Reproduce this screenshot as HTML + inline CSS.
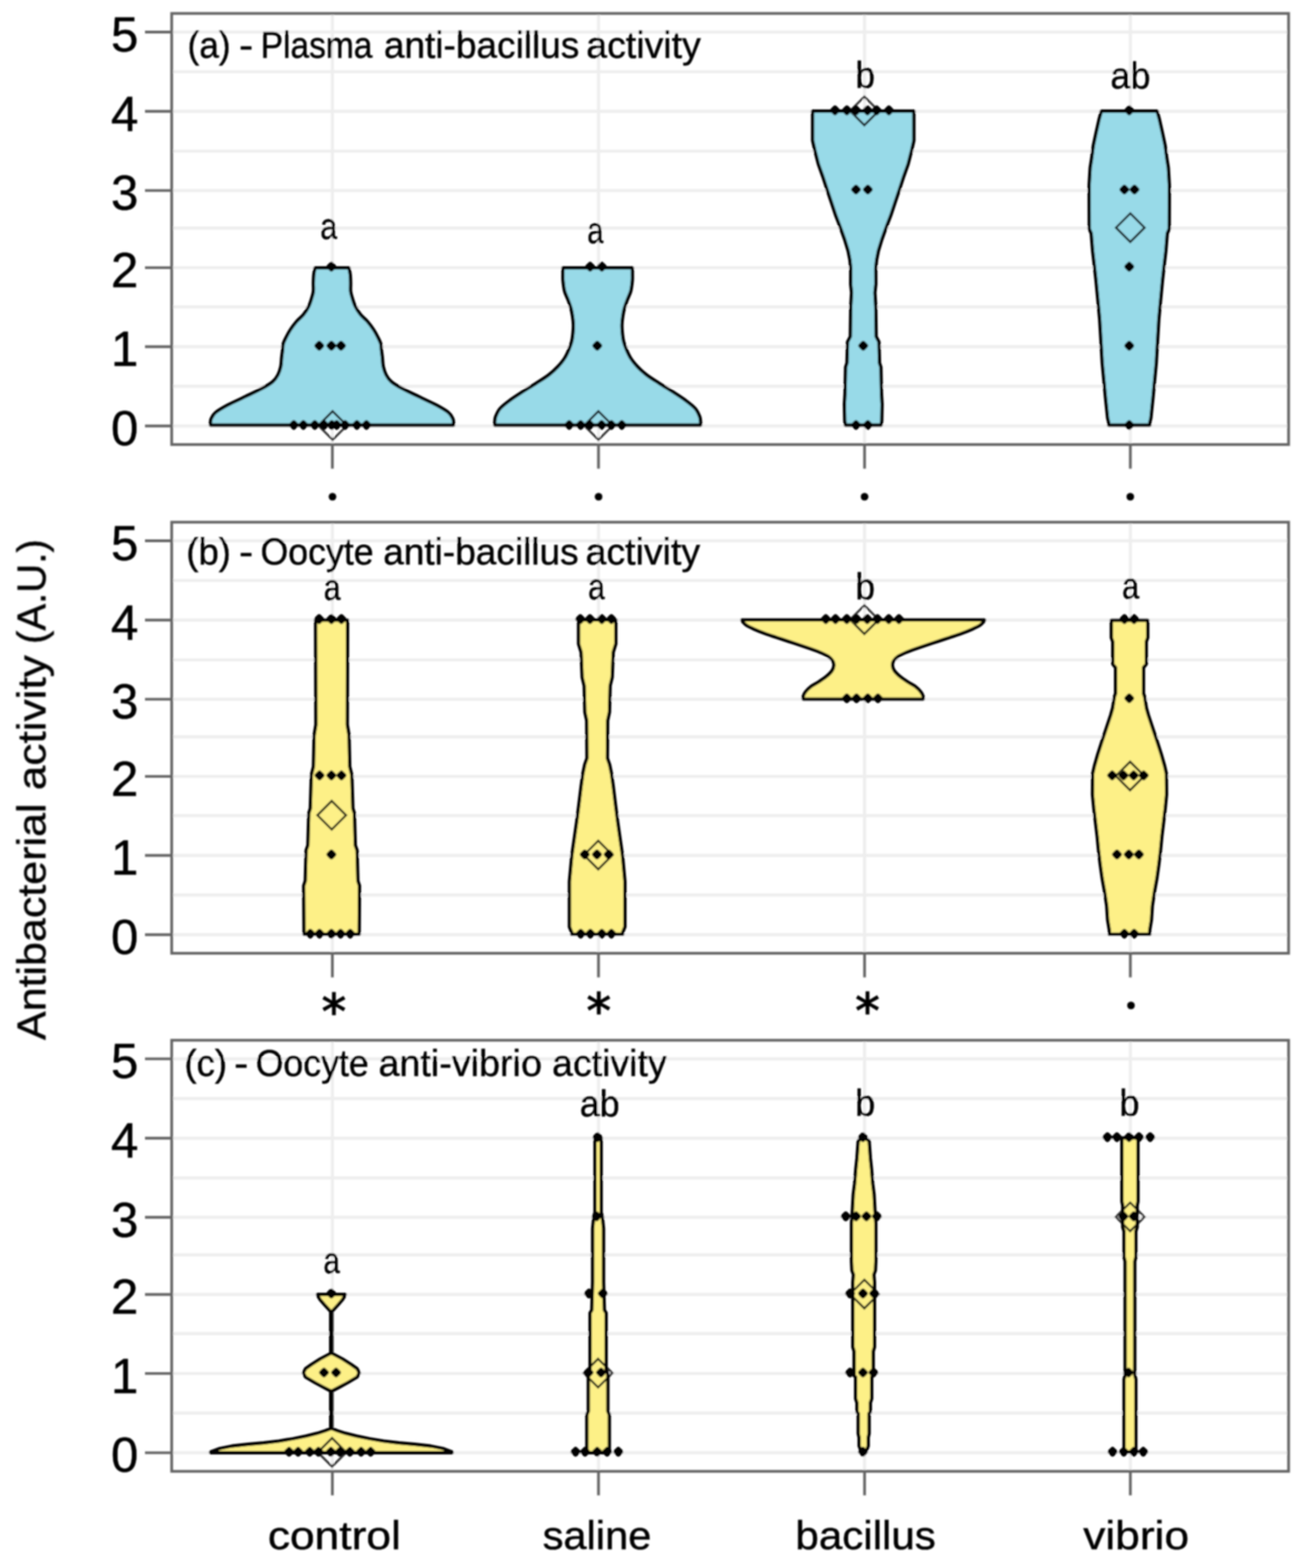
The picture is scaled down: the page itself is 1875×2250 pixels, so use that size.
<!DOCTYPE html>
<html lang="en"><head><meta charset="utf-8"><title>Antibacterial activity violin plots</title>
<style>html,body{margin:0;padding:0;background:#fff}body{width:1875px;height:2250px;overflow:hidden}svg{display:block}text{font-family:'Liberation Sans', Arial, Helvetica, sans-serif;fill:#000;stroke:#000;stroke-width:0.6px}</style>
</head><body>
<svg width="1875" height="2250" viewBox="0 0 1875 2250" role="img" aria-label="Violin plots of antibacterial activity">
<defs><filter id="soft" x="-2%" y="-2%" width="104%" height="104%"><feGaussianBlur stdDeviation="1.1"/></filter></defs>
<rect width="1875" height="2250" fill="#fff"/>
<g filter="url(#soft)">
<g id="panel-a">
<path d="M246.3,611.2 H1848.6 M246.3,497.5 H1848.6 M246.3,384.1 H1848.6 M246.3,273.4 H1848.6 M246.3,159.8 H1848.6 M246.3,46 H1848.6 M246.3,554.3 H1848.6 M246.3,440.4 H1848.6 M246.3,327.3 H1848.6 M246.3,216.9 H1848.6 M246.3,102.9 H1848.6 M476.8,19.3 V637.9 M858.6,19.3 V637.9 M1240.3,19.3 V637.9 M1621.6,19.3 V637.9" stroke="#eeeeee" stroke-width="4.4" fill="none"/>
<path d="M452,384.4 C451.7,386 450.6,390.4 450.2,394 C449.8,397.6 449.7,402 449.6,406 C449.5,410 450,414.4 449.6,418 C449.2,421.6 448.3,424 447.2,427.6 C446.1,431.2 444.9,435.6 442.9,439.6 C440.9,443.6 438.2,448 435.3,451.6 C432.4,455.2 428.6,457.6 425.5,461.2 C422.4,464.8 419,469.4 416.5,473.2 C414,477 412.2,480.6 410.5,484 C408.8,487.4 407.1,490.6 406.3,493.6 C405.5,496.6 405.9,498.6 405.5,502 C405.1,505.4 404.4,510 404,514 C403.6,518 403.7,522 402.8,526 C401.9,530 400.6,534.4 398.7,538 C396.8,541.6 395,544.4 391.3,547.6 C387.6,550.8 382.9,553.6 376.3,557.2 C369.7,560.8 360.1,565.2 351.8,569.2 C343.6,573.2 333.9,577.4 326.8,581.2 C319.7,585 313.1,588.8 309.2,592 C305.3,595.2 304.4,598.1 303.2,600.4 C302,602.7 302.2,604.4 302,606 C301.8,607.6 302,609.3 302,610 L650.6,610 C650.6,609.3 650.8,607.6 650.6,606 C650.4,604.4 650.6,602.7 649.4,600.4 C648.2,598.1 647.3,595.2 643.4,592 C639.5,588.8 632.9,585 625.8,581.2 C618.7,577.4 609,573.2 600.8,569.2 C592.5,565.2 582.9,560.8 576.3,557.2 C569.7,553.6 565,550.8 561.3,547.6 C557.6,544.4 555.8,541.6 553.9,538 C552,534.4 550.7,530 549.8,526 C548.9,522 549,518 548.6,514 C548.2,510 547.5,505.4 547.1,502 C546.7,498.6 547.1,496.6 546.3,493.6 C545.5,490.6 543.8,487.4 542.1,484 C540.4,480.6 538.6,477 536.1,473.2 C533.6,469.4 530.2,464.8 527.1,461.2 C524,457.6 520.2,455.2 517.3,451.6 C514.4,448 511.7,443.6 509.7,439.6 C507.7,435.6 506.5,431.2 505.4,427.6 C504.3,424 503.4,421.6 503,418 C502.6,414.4 503.1,410 503,406 C502.9,402 502.8,397.6 502.4,394 C502,390.4 500.9,386 500.6,384.4Z" fill="#98dae8" stroke="#000" stroke-width="4.8" stroke-linejoin="round"/>
<path d="M807.6,384.4 C807.6,386 807.6,390.8 807.6,394 C807.6,397.2 807.4,399.6 807.8,403.6 C808.2,407.6 808.8,413.6 810,418 C811.2,422.4 813.3,426 814.8,430 C816.3,434 817.9,438 819,442 C820.1,446 820.8,450 821.4,454 C822,458 822.5,462 822.6,466 C822.7,470 822.4,474 822,478 C821.6,482 821.2,486 820.2,490 C819.2,494 817.7,498 816,502 C814.3,506 812.6,510 810,514 C807.4,518 804.2,522 800.4,526 C796.6,530 792.4,534 787.2,538 C782,542 775.4,546 769.2,550 C763,554 756.2,558 750,562 C743.8,566 737.4,570 732,574 C726.6,578 721.1,582 717.6,586 C714.1,590 712.3,594.7 711,598 C709.7,601.3 710,604 709.8,606 C709.6,608 709.8,609.3 709.8,610 L1005,610 C1005,609.3 1005.2,608 1005,606 C1004.8,604 1005.1,601.3 1003.8,598 C1002.5,594.7 1000.7,590 997.2,586 C993.7,582 988.2,578 982.8,574 C977.4,570 971,566 964.8,562 C958.6,558 951.8,554 945.6,550 C939.4,546 932.8,542 927.6,538 C922.4,534 918.2,530 914.4,526 C910.6,522 907.4,518 904.8,514 C902.2,510 900.5,506 898.8,502 C897.1,498 895.6,494 894.6,490 C893.6,486 893.2,482 892.8,478 C892.4,474 892.1,470 892.2,466 C892.3,462 892.8,458 893.4,454 C894,450 894.7,446 895.8,442 C896.9,438 898.5,434 900,430 C901.5,426 903.6,422.4 904.8,418 C906,413.6 906.6,407.6 907,403.6 C907.4,399.6 907.2,397.2 907.2,394 C907.2,390.8 907.2,386 907.2,384.4Z" fill="#98dae8" stroke="#000" stroke-width="4.8" stroke-linejoin="round"/>
<path d="M1165.8,159.5 L1165.8,201.6 L1168.9,215.4 L1174,235.5 L1180.3,253.1 L1186.5,272 L1192.8,290.8 L1199.1,309.7 L1205.4,326 L1211.7,343.6 L1216.7,360 L1219.2,372.6 L1220.5,385.1 L1220.4,407.7 L1221.7,420 L1220.5,440 L1219.9,483 L1215.9,490.7 L1215.1,520.8 L1213.1,527 L1212.3,565 L1211.4,580 L1211.9,604 L1212.9,610 L1263.9,610 L1264.9,604 L1265.4,580 L1264.5,565 L1263.7,527 L1261.7,520.8 L1260.9,490.7 L1256.9,483 L1256.3,440 L1255.1,420 L1256.4,407.7 L1256.3,385.1 L1257.6,372.6 L1260.1,360 L1265.1,343.6 L1271.4,326 L1277.7,309.7 L1284,290.8 L1290.3,272 L1296.5,253.1 L1302.8,235.5 L1307.9,215.4 L1311,201.6 L1311,159.5Z" fill="#98dae8" stroke="#000" stroke-width="4.8" stroke-linejoin="round"/>
<path d="M1580,159.5 L1576.7,171.4 L1572.5,190.3 L1568.5,209 L1566,228 L1564,240.6 L1562.5,265.7 L1562.7,328.6 L1565.5,335 L1567.5,360 L1570.4,385 L1572.2,401 L1577.6,458 L1581.3,521 L1586,571 L1589,600 L1590.5,606 L1590.5,610 L1649.5,610 L1649.5,606 L1651,600 L1654,571 L1658.7,521 L1662.4,458 L1667.8,401 L1669.6,385 L1672.5,360 L1674.5,335 L1677.3,328.6 L1677.5,265.7 L1676,240.6 L1674,228 L1671.5,209 L1667.5,190.3 L1663.3,171.4 L1660,159.5Z" fill="#98dae8" stroke="#000" stroke-width="4.8" stroke-linejoin="round"/>
<path d="M477.2,590.1 L497.7,610.6 L477.2,631.1 L456.7,610.6Z M858.5,590.1 L879,610.6 L858.5,631.1 L838,610.6Z M1240,138.7 L1260.5,159.2 L1240,179.7 L1219.5,159.2Z M1621.5,306.2 L1642,326.7 L1621.5,347.2 L1601,326.7Z" fill="none" stroke="#000" stroke-opacity="0.8" stroke-width="3.2" stroke-linejoin="miter"/>
<path d="M421.5,606.6 l3.2,3.2 l-3.2,3.2 l-3.2,-3.2Z M435.2,606.6 l3.2,3.2 l-3.2,3.2 l-3.2,-3.2Z M451.6,606.6 l3.2,3.2 l-3.2,3.2 l-3.2,-3.2Z M464.9,606.6 l3.2,3.2 l-3.2,3.2 l-3.2,-3.2Z M476,606.6 l3.2,3.2 l-3.2,3.2 l-3.2,-3.2Z M483,606.6 l3.2,3.2 l-3.2,3.2 l-3.2,-3.2Z M495.1,606.6 l3.2,3.2 l-3.2,3.2 l-3.2,-3.2Z M512,606.6 l3.2,3.2 l-3.2,3.2 l-3.2,-3.2Z M525.7,606.6 l3.2,3.2 l-3.2,3.2 l-3.2,-3.2Z M816.6,606.6 l3.2,3.2 l-3.2,3.2 l-3.2,-3.2Z M833,606.6 l3.2,3.2 l-3.2,3.2 l-3.2,-3.2Z M846,606.6 l3.2,3.2 l-3.2,3.2 l-3.2,-3.2Z M863,606.6 l3.2,3.2 l-3.2,3.2 l-3.2,-3.2Z M877,606.6 l3.2,3.2 l-3.2,3.2 l-3.2,-3.2Z M892,606.6 l3.2,3.2 l-3.2,3.2 l-3.2,-3.2Z M1228,606.6 l3.2,3.2 l-3.2,3.2 l-3.2,-3.2Z M1245,606.6 l3.2,3.2 l-3.2,3.2 l-3.2,-3.2Z M1620,606.6 l3.2,3.2 l-3.2,3.2 l-3.2,-3.2Z M458,492.9 l3.2,3.2 l-3.2,3.2 l-3.2,-3.2Z M475.4,492.9 l3.2,3.2 l-3.2,3.2 l-3.2,-3.2Z M489.2,492.9 l3.2,3.2 l-3.2,3.2 l-3.2,-3.2Z M856.8,492.9 l3.2,3.2 l-3.2,3.2 l-3.2,-3.2Z M1238.4,492.9 l3.2,3.2 l-3.2,3.2 l-3.2,-3.2Z M1620,492.9 l3.2,3.2 l-3.2,3.2 l-3.2,-3.2Z M475.4,379.5 l3.2,3.2 l-3.2,3.2 l-3.2,-3.2Z M846.6,379.5 l3.2,3.2 l-3.2,3.2 l-3.2,-3.2Z M863.4,379.5 l3.2,3.2 l-3.2,3.2 l-3.2,-3.2Z M1620,379.5 l3.2,3.2 l-3.2,3.2 l-3.2,-3.2Z M1228,268.8 l3.2,3.2 l-3.2,3.2 l-3.2,-3.2Z M1245,268.8 l3.2,3.2 l-3.2,3.2 l-3.2,-3.2Z M1613,268.8 l3.2,3.2 l-3.2,3.2 l-3.2,-3.2Z M1627.5,268.8 l3.2,3.2 l-3.2,3.2 l-3.2,-3.2Z M1197.9,155.2 l3.2,3.2 l-3.2,3.2 l-3.2,-3.2Z M1214.9,155.2 l3.2,3.2 l-3.2,3.2 l-3.2,-3.2Z M1228,155.2 l3.2,3.2 l-3.2,3.2 l-3.2,-3.2Z M1244.4,155.2 l3.2,3.2 l-3.2,3.2 l-3.2,-3.2Z M1257.6,155.2 l3.2,3.2 l-3.2,3.2 l-3.2,-3.2Z M1275.2,155.2 l3.2,3.2 l-3.2,3.2 l-3.2,-3.2Z M1620,155.2 l3.2,3.2 l-3.2,3.2 l-3.2,-3.2Z" fill="#000" stroke="#000" stroke-width="7.4" stroke-linejoin="round"/>
<rect x="246.3" y="19.3" width="1602.3" height="618.6" fill="none" stroke="#646464" stroke-width="3.9"/>
<path d="M208,611.2 H246.3 M208,497.5 H246.3 M208,384.1 H246.3 M208,273.4 H246.3 M208,159.8 H246.3 M208,46 H246.3 M476.8,637.9 V672.4 M858.6,637.9 V672.4 M1240.3,637.9 V672.4 M1621.6,637.9 V672.4" stroke="#646464" stroke-width="3.9" fill="none"/>
<text x="198.5" y="639" font-size="70.5" text-anchor="end">0</text>
<text x="198.5" y="525.3" font-size="70.5" text-anchor="end">1</text>
<text x="198.5" y="411.9" font-size="70.5" text-anchor="end">2</text>
<text x="198.5" y="301.2" font-size="70.5" text-anchor="end">3</text>
<text x="198.5" y="187.6" font-size="70.5" text-anchor="end">4</text>
<text x="198.5" y="73.8" font-size="70.5" text-anchor="end">5</text>
</g>
<g id="panel-b">
<path d="M246.3,1341.2 H1848.6 M246.3,1227.5 H1848.6 M246.3,1114.1 H1848.6 M246.3,1003.4 H1848.6 M246.3,889.8 H1848.6 M246.3,776 H1848.6 M246.3,1284.3 H1848.6 M246.3,1170.4 H1848.6 M246.3,1057.3 H1848.6 M246.3,946.9 H1848.6 M246.3,832.9 H1848.6 M476.8,749.3 V1367.9 M858.6,749.3 V1367.9 M1240.3,749.3 V1367.9 M1621.6,749.3 V1367.9" stroke="#eeeeee" stroke-width="4.4" fill="none"/>
<path d="M452.8,889.8 L453.2,1040 L450.7,1055 L449.7,1100 L446.7,1112 L445.2,1160 L443,1167 L441.7,1213 L439.2,1220 L438,1264 L435.7,1271 L436.2,1340.5 L515.2,1340.5 L515.7,1271 L513.4,1264 L512.2,1220 L509.7,1213 L508.4,1167 L506.2,1160 L504.7,1112 L501.7,1100 L500.7,1055 L498.2,1040 L498.6,889.8Z" fill="#fdf087" stroke="#000" stroke-width="4.8" stroke-linejoin="round"/>
<path d="M830,889.6 L830,924 L833.7,936 L835.2,972 L838.1,984 L839.1,1022 L841.7,1034 L842.1,1088 L838.9,1097 L836.2,1110 L833.7,1128 L830.4,1155 L827.2,1180 L823.9,1203 L820.3,1228 L816.9,1265 L816.9,1330 L820.2,1338 L820.2,1340.7 L893.2,1340.7 L893.2,1338 L896.5,1330 L896.5,1265 L893.1,1228 L889.5,1203 L886.2,1180 L883,1155 L879.7,1128 L877.2,1110 L874.5,1097 L871.3,1088 L871.7,1034 L874.3,1022 L875.3,984 L878.2,972 L879.7,936 L883.4,924 L883.4,889.6Z" fill="#fdf087" stroke="#000" stroke-width="4.8" stroke-linejoin="round"/>
<path d="M1064.3,889.7 C1064.5,890.1 1064.2,890.6 1065.3,891.9 C1066.4,893.2 1068.2,895.5 1070.9,897.3 C1073.6,899.1 1077.2,900.7 1081.7,902.7 C1086.2,904.7 1092.6,907.3 1098,909.3 C1103.4,911.3 1108.9,912.9 1114.3,914.7 C1119.7,916.5 1125.2,918.3 1130.6,920.1 C1136,921.9 1141.5,923.7 1146.9,925.5 C1152.3,927.3 1158,929.2 1163.1,931 C1168.2,932.8 1173.1,934.6 1177.3,936.4 C1181.5,938.2 1185.2,939.8 1188.1,941.8 C1191,943.8 1193.2,946.1 1194.6,948.3 C1196,950.5 1196.5,952.5 1196.3,954.9 C1196.1,957.3 1195.5,959.8 1193.6,962.5 C1191.7,965.2 1188.2,968.5 1184.9,971.2 C1181.6,973.9 1177.6,976.4 1174,978.7 C1170.4,981.1 1166.2,982.9 1163.1,985.3 C1160,987.7 1157.3,990.5 1155.5,992.9 C1153.7,995.2 1152.8,997.7 1152.3,999.4 C1151.8,1001.1 1152.3,1002.6 1152.3,1003.2 L1324.3,1003.2 C1324.3,1002.6 1324.8,1001.1 1324.3,999.4 C1323.8,997.7 1322.9,995.2 1321.1,992.9 C1319.3,990.5 1316.6,987.7 1313.5,985.3 C1310.4,982.9 1306.2,981.1 1302.6,978.7 C1299,976.4 1295,973.9 1291.7,971.2 C1288.4,968.5 1284.9,965.2 1283,962.5 C1281.1,959.8 1280.5,957.3 1280.3,954.9 C1280.1,952.5 1280.6,950.5 1282,948.3 C1283.4,946.1 1285.6,943.8 1288.5,941.8 C1291.4,939.8 1295.1,938.2 1299.3,936.4 C1303.5,934.6 1308.4,932.8 1313.5,931 C1318.6,929.2 1324.3,927.3 1329.7,925.5 C1335.1,923.7 1340.6,921.9 1346,920.1 C1351.4,918.3 1356.9,916.5 1362.3,914.7 C1367.7,912.9 1373.2,911.3 1378.6,909.3 C1384,907.3 1390.4,904.7 1394.9,902.7 C1399.4,900.7 1403,899.1 1405.7,897.3 C1408.4,895.5 1410.2,893.2 1411.3,891.9 C1412.4,890.6 1412.1,890.1 1412.3,889.7Z" fill="#fdf087" stroke="#000" stroke-width="4.8" stroke-linejoin="round"/>
<path d="M1594.3,890.2 L1594.3,915 L1596.4,921 L1596.4,953 L1600.4,958 L1600.4,995 L1598.7,1000 L1596.2,1016 L1593.4,1026 L1587.1,1045 L1580.8,1063.7 L1574.8,1082.5 L1570.1,1099 L1567.6,1110 L1567.5,1120 L1567.3,1140 L1569.2,1160 L1571.6,1180 L1574,1200 L1575.9,1220 L1578.3,1240 L1581.1,1260 L1584.7,1280 L1587.7,1300 L1589,1320 L1591.5,1335 L1591.5,1340.7 L1649.3,1340.7 L1649.3,1335 L1651.8,1320 L1653.1,1300 L1656.1,1280 L1659.7,1260 L1662.5,1240 L1664.9,1220 L1666.8,1200 L1669.2,1180 L1671.6,1160 L1673.5,1140 L1673.3,1120 L1673.2,1110 L1670.7,1099 L1666,1082.5 L1660,1063.7 L1653.7,1045 L1647.4,1026 L1644.6,1016 L1642.1,1000 L1640.4,995 L1640.4,958 L1644.4,953 L1644.4,921 L1646.5,915 L1646.5,890.2Z" fill="#fdf087" stroke="#000" stroke-width="4.8" stroke-linejoin="round"/>
<path d="M475.9,1149.3 L496.4,1169.8 L475.9,1190.3 L455.4,1169.8Z M858.2,1206.4 L878.7,1226.9 L858.2,1247.4 L837.7,1226.9Z M1240,868.7 L1260.5,889.2 L1240,909.7 L1219.5,889.2Z M1621.2,1093 L1641.7,1113.5 L1621.2,1134 L1600.7,1113.5Z" fill="none" stroke="#000" stroke-opacity="0.8" stroke-width="3.2" stroke-linejoin="miter"/>
<path d="M445.2,1336.6 l3.2,3.2 l-3.2,3.2 l-3.2,-3.2Z M458.4,1336.6 l3.2,3.2 l-3.2,3.2 l-3.2,-3.2Z M475.4,1336.6 l3.2,3.2 l-3.2,3.2 l-3.2,-3.2Z M488.6,1336.6 l3.2,3.2 l-3.2,3.2 l-3.2,-3.2Z M502.4,1336.6 l3.2,3.2 l-3.2,3.2 l-3.2,-3.2Z M833.1,1336.6 l3.2,3.2 l-3.2,3.2 l-3.2,-3.2Z M846.9,1336.6 l3.2,3.2 l-3.2,3.2 l-3.2,-3.2Z M863.3,1336.6 l3.2,3.2 l-3.2,3.2 l-3.2,-3.2Z M877.1,1336.6 l3.2,3.2 l-3.2,3.2 l-3.2,-3.2Z M1613,1336.6 l3.2,3.2 l-3.2,3.2 l-3.2,-3.2Z M1627,1336.6 l3.2,3.2 l-3.2,3.2 l-3.2,-3.2Z M475.4,1222.9 l3.2,3.2 l-3.2,3.2 l-3.2,-3.2Z M838.8,1222.9 l3.2,3.2 l-3.2,3.2 l-3.2,-3.2Z M856.4,1222.9 l3.2,3.2 l-3.2,3.2 l-3.2,-3.2Z M873.3,1222.9 l3.2,3.2 l-3.2,3.2 l-3.2,-3.2Z M1602.4,1222.9 l3.2,3.2 l-3.2,3.2 l-3.2,-3.2Z M1619.4,1222.9 l3.2,3.2 l-3.2,3.2 l-3.2,-3.2Z M1633.8,1222.9 l3.2,3.2 l-3.2,3.2 l-3.2,-3.2Z M458.4,1109.5 l3.2,3.2 l-3.2,3.2 l-3.2,-3.2Z M475.4,1109.5 l3.2,3.2 l-3.2,3.2 l-3.2,-3.2Z M489.8,1109.5 l3.2,3.2 l-3.2,3.2 l-3.2,-3.2Z M1595.5,1109.5 l3.2,3.2 l-3.2,3.2 l-3.2,-3.2Z M1611.8,1109.5 l3.2,3.2 l-3.2,3.2 l-3.2,-3.2Z M1626.3,1109.5 l3.2,3.2 l-3.2,3.2 l-3.2,-3.2Z M1640.7,1109.5 l3.2,3.2 l-3.2,3.2 l-3.2,-3.2Z M1214.8,998.8 l3.2,3.2 l-3.2,3.2 l-3.2,-3.2Z M1228.7,998.8 l3.2,3.2 l-3.2,3.2 l-3.2,-3.2Z M1244.9,998.8 l3.2,3.2 l-3.2,3.2 l-3.2,-3.2Z M1259.5,998.8 l3.2,3.2 l-3.2,3.2 l-3.2,-3.2Z M1620,998.8 l3.2,3.2 l-3.2,3.2 l-3.2,-3.2Z M457.8,885.2 l3.2,3.2 l-3.2,3.2 l-3.2,-3.2Z M475.4,885.2 l3.2,3.2 l-3.2,3.2 l-3.2,-3.2Z M489.8,885.2 l3.2,3.2 l-3.2,3.2 l-3.2,-3.2Z M832.5,885.2 l3.2,3.2 l-3.2,3.2 l-3.2,-3.2Z M846.3,885.2 l3.2,3.2 l-3.2,3.2 l-3.2,-3.2Z M863.3,885.2 l3.2,3.2 l-3.2,3.2 l-3.2,-3.2Z M877.1,885.2 l3.2,3.2 l-3.2,3.2 l-3.2,-3.2Z M1184.7,885.2 l3.2,3.2 l-3.2,3.2 l-3.2,-3.2Z M1198.6,885.2 l3.2,3.2 l-3.2,3.2 l-3.2,-3.2Z M1214.8,885.2 l3.2,3.2 l-3.2,3.2 l-3.2,-3.2Z M1228.7,885.2 l3.2,3.2 l-3.2,3.2 l-3.2,-3.2Z M1244.1,885.2 l3.2,3.2 l-3.2,3.2 l-3.2,-3.2Z M1258.8,885.2 l3.2,3.2 l-3.2,3.2 l-3.2,-3.2Z M1275,885.2 l3.2,3.2 l-3.2,3.2 l-3.2,-3.2Z M1289.6,885.2 l3.2,3.2 l-3.2,3.2 l-3.2,-3.2Z M1613.1,885.2 l3.2,3.2 l-3.2,3.2 l-3.2,-3.2Z M1626.9,885.2 l3.2,3.2 l-3.2,3.2 l-3.2,-3.2Z" fill="#000" stroke="#000" stroke-width="7.4" stroke-linejoin="round"/>
<rect x="246.3" y="749.3" width="1602.3" height="618.6" fill="none" stroke="#646464" stroke-width="3.9"/>
<path d="M208,1341.2 H246.3 M208,1227.5 H246.3 M208,1114.1 H246.3 M208,1003.4 H246.3 M208,889.8 H246.3 M208,776 H246.3 M476.8,1367.9 V1402.4 M858.6,1367.9 V1402.4 M1240.3,1367.9 V1402.4 M1621.6,1367.9 V1402.4" stroke="#646464" stroke-width="3.9" fill="none"/>
<text x="198.5" y="1369" font-size="70.5" text-anchor="end">0</text>
<text x="198.5" y="1255.3" font-size="70.5" text-anchor="end">1</text>
<text x="198.5" y="1141.9" font-size="70.5" text-anchor="end">2</text>
<text x="198.5" y="1031.2" font-size="70.5" text-anchor="end">3</text>
<text x="198.5" y="917.6" font-size="70.5" text-anchor="end">4</text>
<text x="198.5" y="803.8" font-size="70.5" text-anchor="end">5</text>
</g>
<g id="panel-c">
<path d="M246.3,2084.6 H1848.6 M246.3,1970.9 H1848.6 M246.3,1857.5 H1848.6 M246.3,1746.8 H1848.6 M246.3,1633.2 H1848.6 M246.3,1519.4 H1848.6 M246.3,2027.7 H1848.6 M246.3,1913.8 H1848.6 M246.3,1800.7 H1848.6 M246.3,1690.3 H1848.6 M246.3,1576.3 H1848.6 M476.8,1492.7 V2111.3 M858.6,1492.7 V2111.3 M1240.3,1492.7 V2111.3 M1621.6,1492.7 V2111.3" stroke="#eeeeee" stroke-width="4.4" fill="none"/>
<path d="M455.5,1857.3 L456.3,1860 L459.3,1865 L465.3,1872 L474.4,1882 L474.4,1942 L459.3,1950 L446.8,1958 L438.3,1964 L435.3,1970 L438.3,1976 L451.8,1984 L462.9,1990 L474.4,1996 L474.4,2050 L466.7,2053 L455.3,2056.7 L439.3,2060.6 L420.3,2064.5 L400.3,2067.8 L378.3,2070.5 L355.7,2072.5 L332.9,2075 L315.3,2078.5 L302.1,2083.6 L302.1,2084.5 L648.5,2084.5 L648.5,2083.6 L635.3,2078.5 L617.7,2075 L594.9,2072.5 L572.3,2070.5 L550.3,2067.8 L530.3,2064.5 L511.3,2060.6 L495.3,2056.7 L483.9,2053 L476.2,2050 L476.2,1996 L487.7,1990 L498.8,1984 L512.3,1976 L515.3,1970 L512.3,1964 L503.8,1958 L491.3,1950 L476.2,1942 L476.2,1882 L485.3,1872 L491.3,1865 L494.3,1860 L495.1,1857.3Z" fill="#fdf087" stroke="#000" stroke-width="4.8" stroke-linejoin="round"/>
<path d="M853.6,1632.8 L853.6,1740 L852,1745 L850.2,1763 L850.2,1840 L849,1880 L846.5,1884 L846.5,1965 L844,1972 L844,2025 L841.9,2030 L841.9,2084.5 L874.1,2084.5 L874.1,2030 L872,2025 L872,1972 L869.5,1965 L869.5,1884 L867,1880 L865.8,1840 L865.8,1763 L864,1745 L862.4,1740 L862.4,1632.8Z" fill="#fdf087" stroke="#000" stroke-width="4.8" stroke-linejoin="round"/>
<path d="M1238,1632.8 L1231.2,1637 L1229.4,1662 L1227.8,1677 L1226,1699 L1224.1,1714 L1222.9,1736 L1221.6,1755 L1221.6,1810 L1222.2,1823 L1224.4,1829 L1223.5,1840 L1223.5,1933 L1225.3,1939 L1225.3,1974 L1227.5,1976 L1227.5,2007 L1229.4,2013 L1229.4,2026 L1231.2,2028 L1231.2,2057 L1232.5,2063 L1232.5,2075 L1235,2081.4 L1243,2081.4 L1245.5,2075 L1245.5,2063 L1246.8,2057 L1246.8,2028 L1248.6,2026 L1248.6,2013 L1250.5,2007 L1250.5,1976 L1252.7,1974 L1252.7,1939 L1254.5,1933 L1254.5,1840 L1253.6,1829 L1255.8,1823 L1256.4,1810 L1256.4,1755 L1255.1,1736 L1253.9,1714 L1252,1699 L1250.2,1677 L1248.6,1662 L1246.8,1637 L1240,1632.8Z" fill="#fdf087" stroke="#000" stroke-width="4.8" stroke-linejoin="round"/>
<path d="M1609.5,1632.8 L1609.5,1724 L1610.7,1730 L1610.7,1761 L1612.6,1767 L1612.6,1804 L1614.1,1810 L1614.1,1973 L1612.6,1979 L1612.6,2083.3 L1629.4,2083.3 L1629.4,1979 L1627.9,1973 L1627.9,1810 L1629.4,1804 L1629.4,1767 L1631.3,1761 L1631.3,1730 L1632.5,1724 L1632.5,1632.8Z" fill="#fdf087" stroke="#000" stroke-width="4.8" stroke-linejoin="round"/>
<path d="M476.3,2063.5 L496.8,2084 L476.3,2104.5 L455.8,2084Z M858,1949.8 L878.5,1970.3 L858,1990.8 L837.5,1970.3Z M1240,1836.4 L1260.5,1856.9 L1240,1877.4 L1219.5,1856.9Z M1621.3,1725.7 L1641.8,1746.2 L1621.3,1766.7 L1600.8,1746.2Z" fill="none" stroke="#000" stroke-opacity="0.8" stroke-width="3.2" stroke-linejoin="miter"/>
<path d="M414.7,2080 l3.2,3.2 l-3.2,3.2 l-3.2,-3.2Z M427.7,2080 l3.2,3.2 l-3.2,3.2 l-3.2,-3.2Z M444.4,2080 l3.2,3.2 l-3.2,3.2 l-3.2,-3.2Z M456.8,2080 l3.2,3.2 l-3.2,3.2 l-3.2,-3.2Z M474.7,2080 l3.2,3.2 l-3.2,3.2 l-3.2,-3.2Z M487.7,2080 l3.2,3.2 l-3.2,3.2 l-3.2,-3.2Z M502,2080 l3.2,3.2 l-3.2,3.2 l-3.2,-3.2Z M518,2080 l3.2,3.2 l-3.2,3.2 l-3.2,-3.2Z M531.7,2080 l3.2,3.2 l-3.2,3.2 l-3.2,-3.2Z M825.7,2080 l3.2,3.2 l-3.2,3.2 l-3.2,-3.2Z M839.3,2080 l3.2,3.2 l-3.2,3.2 l-3.2,-3.2Z M856.7,2080 l3.2,3.2 l-3.2,3.2 l-3.2,-3.2Z M870.9,2080 l3.2,3.2 l-3.2,3.2 l-3.2,-3.2Z M887,2080 l3.2,3.2 l-3.2,3.2 l-3.2,-3.2Z M1238,2080 l3.2,3.2 l-3.2,3.2 l-3.2,-3.2Z M1596.1,2080 l3.2,3.2 l-3.2,3.2 l-3.2,-3.2Z M1612.2,2080 l3.2,3.2 l-3.2,3.2 l-3.2,-3.2Z M1626.5,2080 l3.2,3.2 l-3.2,3.2 l-3.2,-3.2Z M1640.1,2080 l3.2,3.2 l-3.2,3.2 l-3.2,-3.2Z M464.8,1966.3 l3.2,3.2 l-3.2,3.2 l-3.2,-3.2Z M482.1,1966.3 l3.2,3.2 l-3.2,3.2 l-3.2,-3.2Z M844.3,1966.3 l3.2,3.2 l-3.2,3.2 l-3.2,-3.2Z M862.2,1966.3 l3.2,3.2 l-3.2,3.2 l-3.2,-3.2Z M1219.5,1966.3 l3.2,3.2 l-3.2,3.2 l-3.2,-3.2Z M1238,1966.3 l3.2,3.2 l-3.2,3.2 l-3.2,-3.2Z M1253,1966.3 l3.2,3.2 l-3.2,3.2 l-3.2,-3.2Z M1619,1966.3 l3.2,3.2 l-3.2,3.2 l-3.2,-3.2Z M475.3,1852.9 l3.2,3.2 l-3.2,3.2 l-3.2,-3.2Z M845,1852.9 l3.2,3.2 l-3.2,3.2 l-3.2,-3.2Z M864.7,1852.9 l3.2,3.2 l-3.2,3.2 l-3.2,-3.2Z M1219.5,1852.9 l3.2,3.2 l-3.2,3.2 l-3.2,-3.2Z M1238,1852.9 l3.2,3.2 l-3.2,3.2 l-3.2,-3.2Z M1254,1852.9 l3.2,3.2 l-3.2,3.2 l-3.2,-3.2Z M856,1742.2 l3.2,3.2 l-3.2,3.2 l-3.2,-3.2Z M1213.3,1742.2 l3.2,3.2 l-3.2,3.2 l-3.2,-3.2Z M1228.1,1742.2 l3.2,3.2 l-3.2,3.2 l-3.2,-3.2Z M1243,1742.2 l3.2,3.2 l-3.2,3.2 l-3.2,-3.2Z M1257.9,1742.2 l3.2,3.2 l-3.2,3.2 l-3.2,-3.2Z M1611.6,1742.2 l3.2,3.2 l-3.2,3.2 l-3.2,-3.2Z M1626.5,1742.2 l3.2,3.2 l-3.2,3.2 l-3.2,-3.2Z M857.3,1628.6 l3.2,3.2 l-3.2,3.2 l-3.2,-3.2Z M1238,1628.6 l3.2,3.2 l-3.2,3.2 l-3.2,-3.2Z M1588.7,1628.6 l3.2,3.2 l-3.2,3.2 l-3.2,-3.2Z M1602.3,1628.6 l3.2,3.2 l-3.2,3.2 l-3.2,-3.2Z M1619.7,1628.6 l3.2,3.2 l-3.2,3.2 l-3.2,-3.2Z M1633.9,1628.6 l3.2,3.2 l-3.2,3.2 l-3.2,-3.2Z M1650,1628.6 l3.2,3.2 l-3.2,3.2 l-3.2,-3.2Z" fill="#000" stroke="#000" stroke-width="7.4" stroke-linejoin="round"/>
<rect x="246.3" y="1492.7" width="1602.3" height="618.6" fill="none" stroke="#646464" stroke-width="3.9"/>
<path d="M208,2084.6 H246.3 M208,1970.9 H246.3 M208,1857.5 H246.3 M208,1746.8 H246.3 M208,1633.2 H246.3 M208,1519.4 H246.3 M476.8,2111.3 V2145.8 M858.6,2111.3 V2145.8 M1240.3,2111.3 V2145.8 M1621.6,2111.3 V2145.8" stroke="#646464" stroke-width="3.9" fill="none"/>
<text x="198.5" y="2112.4" font-size="70.5" text-anchor="end">0</text>
<text x="198.5" y="1998.7" font-size="70.5" text-anchor="end">1</text>
<text x="198.5" y="1885.3" font-size="70.5" text-anchor="end">2</text>
<text x="198.5" y="1774.6" font-size="70.5" text-anchor="end">3</text>
<text x="198.5" y="1661" font-size="70.5" text-anchor="end">4</text>
<text x="198.5" y="1547.2" font-size="70.5" text-anchor="end">5</text>
</g>
<g id="titles">
<text y="83" font-size="53"><tspan x="269.1" textLength="61.7" lengthAdjust="spacingAndGlyphs">(a)</tspan> <tspan x="342.9" textLength="20.1" lengthAdjust="spacingAndGlyphs">-</tspan> <tspan x="374.1" textLength="160.1" lengthAdjust="spacingAndGlyphs">Plasma</tspan> <tspan x="550.7" textLength="280.5" lengthAdjust="spacingAndGlyphs">anti-bacillus</tspan> <tspan x="841" textLength="164.3" lengthAdjust="spacingAndGlyphs">activity</tspan></text>
<text y="810.3" font-size="53"><tspan x="267.3" textLength="64" lengthAdjust="spacingAndGlyphs">(b)</tspan> <tspan x="342.9" textLength="20.1" lengthAdjust="spacingAndGlyphs">-</tspan> <tspan x="373.8" textLength="162.1" lengthAdjust="spacingAndGlyphs">Oocyte</tspan> <tspan x="549.7" textLength="280.5" lengthAdjust="spacingAndGlyphs">anti-bacillus</tspan> <tspan x="840" textLength="164.3" lengthAdjust="spacingAndGlyphs">activity</tspan></text>
<text y="1543.6" font-size="53"><tspan x="264.5" textLength="61.4" lengthAdjust="spacingAndGlyphs">(c)</tspan> <tspan x="335.9" textLength="20.1" lengthAdjust="spacingAndGlyphs">-</tspan> <tspan x="366.7" textLength="162.4" lengthAdjust="spacingAndGlyphs">Oocyte</tspan> <tspan x="542.9" textLength="234.6" lengthAdjust="spacingAndGlyphs">anti-vibrio</tspan> <tspan x="792" textLength="164.3" lengthAdjust="spacingAndGlyphs">activity</tspan></text>
</g>
<g id="letters" style="stroke-width:1.1px">
<text x="459.4" y="343.4" font-size="53" textLength="24.1" lengthAdjust="spacingAndGlyphs">a</text>
<text x="842.6" y="348.5" font-size="53" textLength="23.1" lengthAdjust="spacingAndGlyphs">a</text>
<text x="1227.3" y="125.8" font-size="53" textLength="28" lengthAdjust="spacingAndGlyphs">b</text>
<text x="1593.1" y="127.3" font-size="53" textLength="57.2" lengthAdjust="spacingAndGlyphs">ab</text>
<text x="464.4" y="860.7" font-size="53" textLength="24" lengthAdjust="spacingAndGlyphs">a</text>
<text x="843.8" y="860" font-size="53" textLength="23.7" lengthAdjust="spacingAndGlyphs">a</text>
<text x="1227.3" y="859.6" font-size="53" textLength="28" lengthAdjust="spacingAndGlyphs">b</text>
<text x="1609.7" y="859" font-size="53" textLength="24.5" lengthAdjust="spacingAndGlyphs">a</text>
<text x="464.1" y="1827" font-size="53" textLength="23.5" lengthAdjust="spacingAndGlyphs">a</text>
<text x="831.7" y="1601.6" font-size="53" textLength="57.3" lengthAdjust="spacingAndGlyphs">ab</text>
<text x="1226.7" y="1600.7" font-size="53" textLength="28.8" lengthAdjust="spacingAndGlyphs">b</text>
<text x="1605.7" y="1600.7" font-size="53" textLength="29" lengthAdjust="spacingAndGlyphs">b</text>
</g>
<g id="xlabels">
<text x="384.2" y="2223.3" font-size="57" textLength="190.9" lengthAdjust="spacingAndGlyphs">control</text>
<text x="778.4" y="2223.3" font-size="57" textLength="156.1" lengthAdjust="spacingAndGlyphs">saline</text>
<text x="1141.1" y="2223.3" font-size="57" textLength="201.4" lengthAdjust="spacingAndGlyphs">bacillus</text>
<text x="1554" y="2223.3" font-size="57" textLength="151.7" lengthAdjust="spacingAndGlyphs">vibrio</text>
</g>
<text y="0" font-size="57" transform="translate(65.2,1492.4) rotate(-90)"><tspan x="0" textLength="339.4" lengthAdjust="spacingAndGlyphs">Antibacterial</tspan> <tspan x="358.5" textLength="193.7" lengthAdjust="spacingAndGlyphs">activity</tspan> <tspan x="568.2" textLength="150.5" lengthAdjust="spacingAndGlyphs">(A.U.)</tspan></text>
<g id="symbols">
<text x="466" y="717" font-size="88" style="font-family:'Liberation Serif',serif">.</text>
<text x="847.8" y="717" font-size="88" style="font-family:'Liberation Serif',serif">.</text>
<text x="1229.3" y="717" font-size="88" style="font-family:'Liberation Serif',serif">.</text>
<text x="1610.6" y="717" font-size="88" style="font-family:'Liberation Serif',serif">.</text>
<text x="461.6" y="1476.2" font-size="70" style="font-family:'DejaVu Sans',sans-serif;stroke-width:1.6px">*</text>
<text x="841.4" y="1474.8" font-size="70" style="font-family:'DejaVu Sans',sans-serif;stroke-width:1.6px">*</text>
<text x="1227.1" y="1474.8" font-size="70" style="font-family:'DejaVu Sans',sans-serif;stroke-width:1.6px">*</text>
<text x="1611.4" y="1447" font-size="88" style="font-family:'Liberation Serif',serif">.</text>
</g>
</g>
</svg>
</body></html>
